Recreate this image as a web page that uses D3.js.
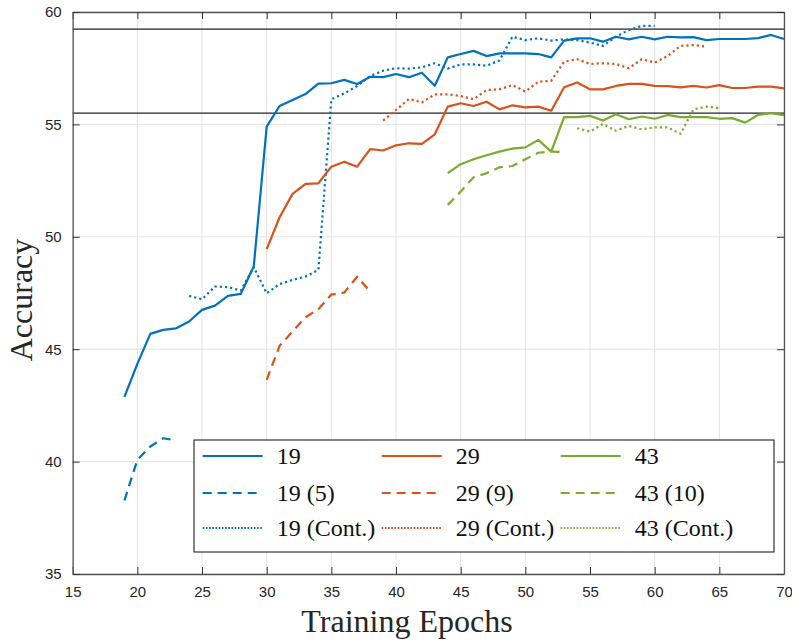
<!DOCTYPE html>
<html>
<head>
<meta charset="utf-8">
<script src="https://cdn.jsdelivr.net/npm/d3@7"></script>
<style>
  body { margin: 0; background: #fff; }
  .tick text { font-family: "Liberation Sans", Arial, sans-serif; font-size: 15px; fill: #262626; }
</style>
</head>
<body>
<script>
// epochs for each run
var ep19 = d3.range(19, 71), ep19s = d3.range(19, 24), ep19c = d3.range(24, 61);
var ep29 = d3.range(30, 71), ep29s = d3.range(30, 39), ep29c = d3.range(39, 65);
var ep43 = d3.range(44, 71), ep43s = d3.range(44, 54), ep43c = d3.range(54, 66);

// accuracy values
var acc19 = [42.88, 44.35, 45.68, 45.86, 45.93, 46.23, 46.75, 46.94, 47.37, 47.46, 48.68, 54.9, 55.82, 56.09, 56.35, 56.81, 56.83, 56.98, 56.8, 57.12,
  57.1, 57.24, 57.1, 57.3, 56.72, 57.98, 58.13, 58.27, 58.04, 58.16, 58.16, 58.16, 58.13, 57.98, 58.73, 58.83, 58.83, 58.68, 58.9, 58.78,
  58.9, 58.78, 58.9, 58.87, 58.88, 58.75, 58.8, 58.8, 58.8, 58.84, 58.98, 58.8];
var acc19s = [38.27, 40.08, 40.67, 41.04, 40.94];
var acc19c = [47.37, 47.22, 47.79, 47.76, 47.61, 48.65, 47.49, 47.9, 48.08, 48.23, 48.53, 56.12, 56.38, 56.71, 57.15, 57.39, 57.5, 57.48, 57.54,
  57.72, 57.48, 57.67, 57.67, 57.61, 57.84, 58.9, 58.75, 58.83, 58.73, 58.78, 58.75, 58.64, 58.49, 58.9, 59.2, 59.38, 59.38];
var acc29 = [49.45, 50.87, 51.91, 52.35, 52.38, 53.12, 53.34, 53.12, 53.9, 53.84, 54.07, 54.16, 54.13, 54.56, 55.79, 55.94, 55.82, 56.01, 55.67,
  55.85, 55.76, 55.79, 55.61, 56.65, 56.86, 56.56, 56.56, 56.71, 56.8, 56.8, 56.71, 56.7, 56.65, 56.71, 56.64, 56.75, 56.62, 56.62, 56.68, 56.68, 56.6];
var acc29s = [43.64, 45.15, 45.79, 46.42, 46.78, 47.43, 47.52, 48.23, 47.56];
var acc29c = [55.17, 55.64, 56.13, 55.98, 56.34, 56.34, 56.26, 56.12, 56.53, 56.56, 56.75, 56.46, 56.9, 56.94, 57.79, 57.9, 57.69, 57.72, 57.69,
  57.5, 57.9, 57.75, 58.04, 58.49, 58.53, 58.46];
var acc43 = [52.83, 53.23, 53.45, 53.63, 53.79, 53.92, 53.98, 54.31, 53.79, 55.32, 55.32, 55.38, 55.17, 55.45, 55.23, 55.35, 55.25, 55.42, 55.32,
  55.32, 55.32, 55.25, 55.28, 55.08, 55.42, 55.5, 55.41];
var acc43s = [51.42, 52.01, 52.65, 52.83, 53.09, 53.15, 53.45, 53.74, 53.79, 53.77];
var acc43c = [54.83, 54.68, 55.02, 54.72, 54.93, 54.78, 54.87, 54.87, 54.58, 55.67, 55.79, 55.72];

// horizontal reference levels
var refLines = [59.24, 55.5];

var xTicks = d3.range(15, 71, 5);
var yTicks = d3.range(35, 61, 5);

var blue = "#0072BD", orange = "#D95319", green = "#77AC30";
var dashed = "9,6", dotted = "2.2,3";

var series = [
  {name: "19", x: ep19, y: acc19, color: blue, dash: null},
  {name: "19 (5)", x: ep19s, y: acc19s, color: blue, dash: dashed},
  {name: "19 (Cont.)", x: ep19c, y: acc19c, color: blue, dash: dotted},
  {name: "29", x: ep29, y: acc29, color: orange, dash: null},
  {name: "29 (9)", x: ep29s, y: acc29s, color: orange, dash: dashed},
  {name: "29 (Cont.)", x: ep29c, y: acc29c, color: orange, dash: dotted},
  {name: "43", x: ep43, y: acc43, color: green, dash: null},
  {name: "43 (10)", x: ep43s, y: acc43s, color: green, dash: dashed},
  {name: "43 (Cont.)", x: ep43c, y: acc43c, color: green, dash: dotted}
];

var width = 792, height = 641;
var plotL = 72.7, plotR = 784, plotT = 12, plotB = 574;

var x = d3.scaleLinear().domain([15, 70]).range([plotL, plotR]);
var y = d3.scaleLinear().domain([35, 60]).range([plotB, plotT]);

var svg = d3.select("body").append("svg")
  .attr("width", width)
  .attr("height", height);

// grid
svg.append("g").selectAll("line").data(xTicks).enter().append("line")
  .attr("x1", d => x(d)).attr("x2", d => x(d))
  .attr("y1", plotT).attr("y2", plotB)
  .attr("stroke", "#e3e3e3").attr("stroke-width", 1);
svg.append("g").selectAll("line").data(yTicks).enter().append("line")
  .attr("y1", d => y(d)).attr("y2", d => y(d))
  .attr("x1", plotL).attr("x2", plotR)
  .attr("stroke", "#e3e3e3").attr("stroke-width", 1);

// reference lines
svg.append("g").selectAll("line").data(refLines).enter().append("line")
  .attr("x1", plotL).attr("x2", plotR)
  .attr("y1", d => y(d)).attr("y2", d => y(d))
  .attr("stroke", "#222").attr("stroke-width", 1.1);

// curves
var line = d3.line().x(d => x(d[0])).y(d => y(d[1]));
svg.append("g").selectAll("path").data(series).enter().append("path")
  .attr("d", s => line(d3.zip(s.x, s.y)))
  .attr("fill", "none")
  .attr("stroke", s => s.color)
  .attr("stroke-width", 2.2)
  .attr("stroke-linejoin", "round")
  .attr("stroke-dasharray", s => s.dash);

// axes, ticks inside on all four sides
var tickLen = 7;
function styleAxis(g) {
  g.select(".domain").attr("stroke", "#555").attr("stroke-width", 1.3);
  g.selectAll(".tick line").attr("stroke", "#333").attr("stroke-width", 1);
}
svg.append("g").attr("transform", "translate(0," + plotB + ")")
  .call(d3.axisBottom(x).tickValues(xTicks).tickSizeInner(-tickLen).tickSizeOuter(0).tickPadding(12))
  .call(styleAxis);
svg.append("g").attr("transform", "translate(0," + plotT + ")")
  .call(d3.axisTop(x).tickValues(xTicks).tickSizeInner(-tickLen).tickSizeOuter(0).tickFormat(""))
  .call(styleAxis);
svg.append("g").attr("transform", "translate(" + plotL + ",0)")
  .call(d3.axisLeft(y).tickValues(yTicks).tickSizeInner(-tickLen).tickSizeOuter(0).tickPadding(11))
  .call(styleAxis);
svg.append("g").attr("transform", "translate(" + plotR + ",0)")
  .call(d3.axisRight(y).tickValues(yTicks).tickSizeInner(-tickLen).tickSizeOuter(0).tickFormat(""))
  .call(styleAxis);

// axis titles
svg.append("text")
  .attr("x", 407).attr("y", 632)
  .attr("text-anchor", "middle")
  .style("font-family", "Liberation Serif, Times New Roman, serif")
  .style("font-size", "32px").style("fill", "#262626")
  .text("Training Epochs");
svg.append("text")
  .attr("transform", "translate(32,300) rotate(-90)")
  .attr("text-anchor", "middle")
  .style("font-family", "Liberation Serif, Times New Roman, serif")
  .style("font-size", "32px").style("fill", "#262626")
  .text("Accuracy");

// legend
var lg = svg.append("g");
lg.append("rect")
  .attr("x", 194).attr("y", 440).attr("width", 580).attr("height", 112)
  .attr("fill", "#fff").attr("stroke", "#333").attr("stroke-width", 1.2);

var colX = [202.7, 381.7, 560.7];
var rowY = [456, 493, 528];
series.forEach(function(s, i) {
  var cx = colX[Math.floor(i / 3)], cy = rowY[i % 3];
  lg.append("line")
    .attr("x1", cx).attr("x2", cx + 60)
    .attr("y1", cy).attr("y2", cy)
    .attr("stroke", s.color).attr("stroke-width", 2.2)
    .attr("stroke-dasharray", s.dash === dotted ? "1.6,1.6" : s.dash);
  lg.append("text")
    .attr("x", cx + 74).attr("y", cy + 8)
    .style("font-family", "Liberation Serif, Times New Roman, serif")
    .style("font-size", "24px").style("fill", "#111")
    .text(s.name);
});
</script>
</body>
</html>
